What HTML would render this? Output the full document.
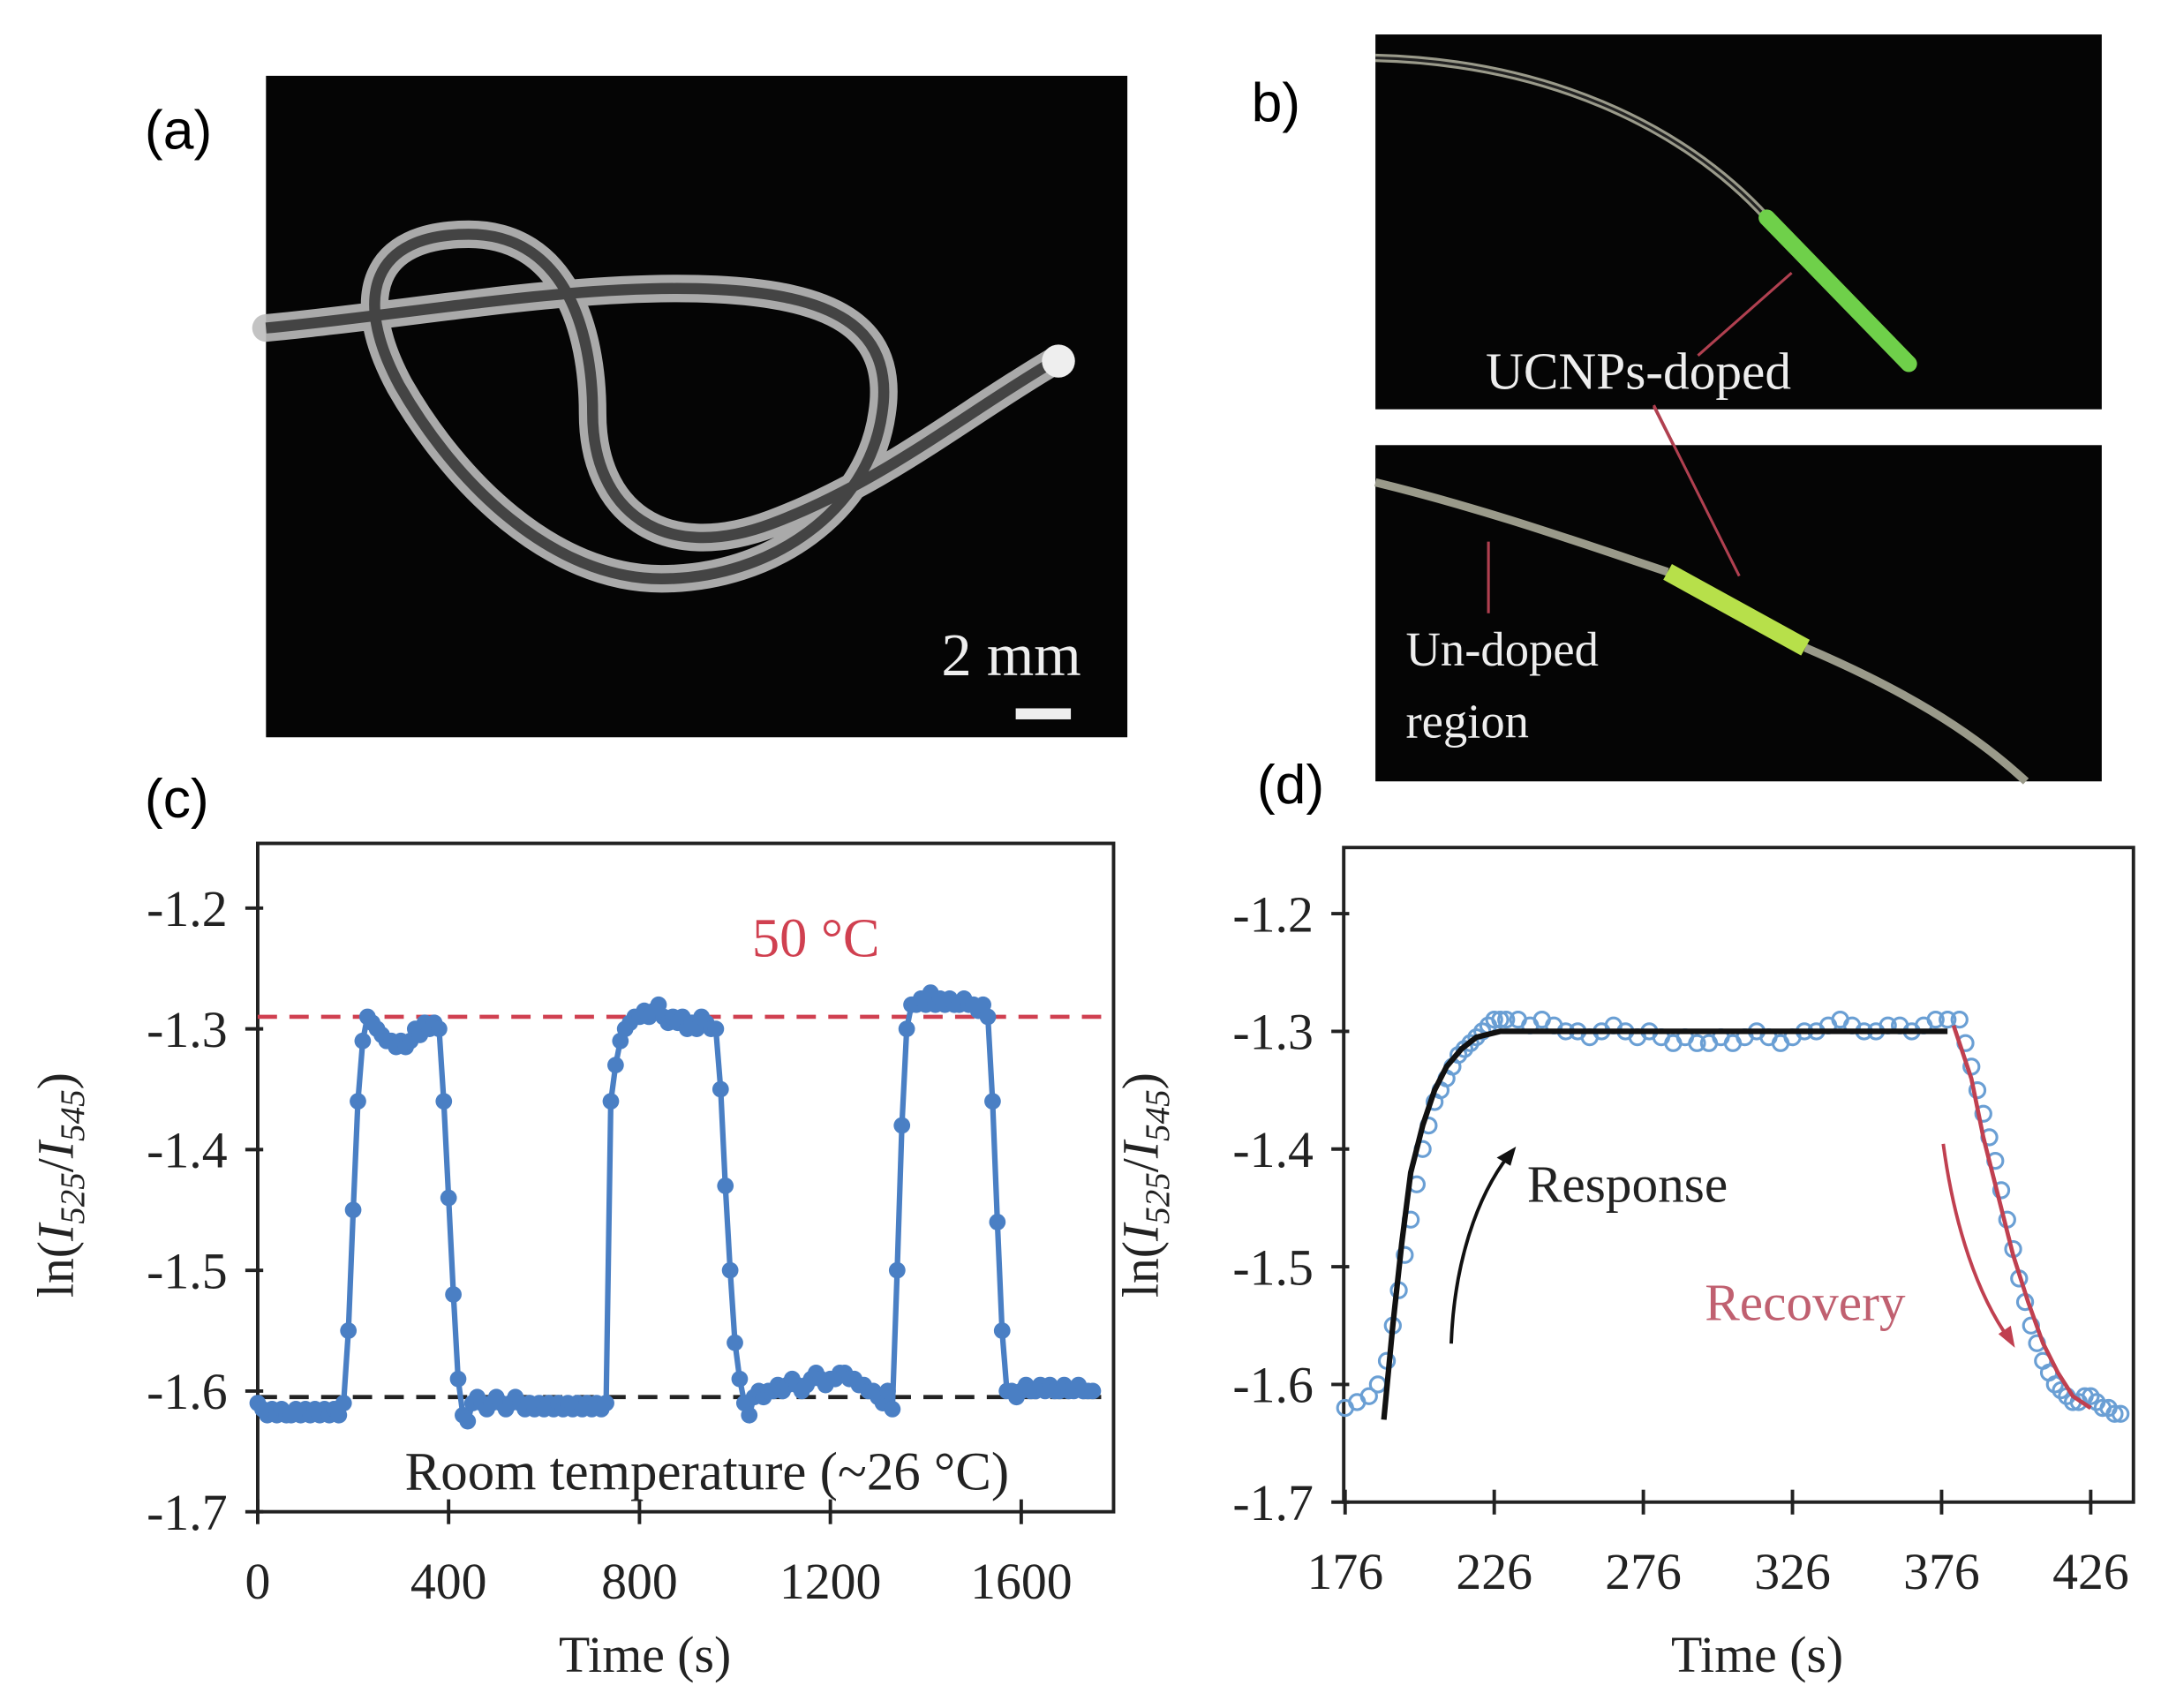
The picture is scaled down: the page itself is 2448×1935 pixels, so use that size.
<!DOCTYPE html>
<html><head><meta charset="utf-8"><style>
html,body{margin:0;padding:0;background:#fff;}
svg{display:block;}
text{font-family:"Liberation Serif",serif;}
.lbl{font-family:"Liberation Sans",sans-serif;}
</style></head><body>
<svg id="fig" width="2448" height="1935" viewBox="0 0 1568 1239.4" xmlns="http://www.w3.org/2000/svg">
<rect width="1568" height="1240" fill="#fff"/>
<!-- panel a -->
<text class="lbl" x="105" y="108" font-size="40">(a)</text>
<g>
<rect x="193" y="55" width="625" height="480" fill="#050505"/>
<g fill="none" stroke="#bdbdbd" stroke-width="20" stroke-linecap="round" opacity="0.9">
<path d="M193,238 C300,228 420,205 520,210 C600,214 650,235 640,300 C630,370 560,420 480,420 C400,420 330,350 290,280 C255,215 270,170 340,170 C410,170 430,240 430,300 C430,370 480,410 560,380 C640,350 700,300 765,262"/>
</g>
<g fill="none" stroke="#2a2a2a" stroke-width="8" opacity="0.8">
<path d="M193,238 C300,228 420,205 520,210 C600,214 650,235 640,300 C630,370 560,420 480,420 C400,420 330,350 290,280 C255,215 270,170 340,170 C410,170 430,240 430,300 C430,370 480,410 560,380 C640,350 700,300 765,262"/>
</g>
<circle cx="768" cy="262" r="12" fill="#eee"/>
<text x="683" y="490" font-size="44" fill="#eee">2 mm</text>
<rect x="737" y="514" width="40" height="8" fill="#eee"/>
</g>
<!-- panel b -->
<text class="lbl" x="908" y="88" font-size="40">b)</text>
<g>
<rect x="998" y="25" width="527" height="272" fill="#050505"/>
<path d="M998,42 C1120,45 1220,90 1282,158" fill="none" stroke="#9a9a8a" stroke-width="6"/>
<path d="M998,42 C1120,45 1220,90 1282,158" fill="none" stroke="#222" stroke-width="2"/>
<path d="M1282,158 L1385,264" fill="none" stroke="#6fd04a" stroke-width="12" stroke-linecap="round"/>
<path d="M1232,258 L1300,198" stroke="#b04050" stroke-width="2"/>
<text x="1078" y="282" font-size="38" fill="#eee">UCNPs-doped</text>
</g>
<path d="M1200,295 L1262,418" stroke="#b04050" stroke-width="2"/>
<g>
<rect x="998" y="323" width="527" height="244" fill="#050505"/>
<path d="M998,350 C1080,370 1150,395 1210,415 M1310,470 C1380,500 1430,530 1470,567" fill="none" stroke="#9a9a8a" stroke-width="6"/>
<path d="M1210,415 L1310,470" stroke="#b7e04a" stroke-width="13"/>
<path d="M1200,294 L1262,418" stroke="#b04050" stroke-width="2"/>
<path d="M1080,393 L1080,445" stroke="#b04050" stroke-width="2"/>
<text x="1020" y="483" font-size="35" fill="#eee">Un-doped</text>
<text x="1020" y="535" font-size="35" fill="#eee">region</text>
</g>
<text class="lbl" x="105" y="593" font-size="40">(c)</text>
<text class="lbl" x="912" y="583" font-size="40">(d)</text>
<g id="chartC"></g>
<g id="chartD"></g>
</svg>
<script>
// ---- Chart C data ----
const cTimeStep = 10;
const cValues = [
-1.61,-1.615,-1.62,-1.615,-1.62,-1.615,-1.62,-1.62,-1.615,-1.62,-1.615,-1.62,-1.615,-1.62,-1.615,-1.62,-1.615,-1.62,
-1.61,-1.55,-1.45,-1.36,-1.31,-1.29,-1.295,-1.30,-1.305,-1.31,-1.31,-1.315,-1.31,-1.315,-1.31,-1.30,-1.305,-1.295,-1.30,-1.295,-1.30,
-1.36,-1.44,-1.52,-1.59,-1.62,-1.625,-1.61,-1.605,
-1.61,-1.615,-1.61,-1.605,-1.61,-1.615,-1.61,-1.605,-1.61,-1.615,-1.61,-1.615,-1.61,-1.615,-1.61,-1.615,-1.61,-1.615,-1.61,-1.615,-1.61,-1.615,-1.61,-1.615,-1.61,-1.615,
-1.61,-1.36,-1.33,-1.31,-1.30,-1.295,-1.29,
-1.29,-1.285,-1.29,-1.285,-1.28,-1.29,-1.295,-1.29,-1.295,-1.29,-1.30,-1.295,-1.30,-1.29,-1.295,-1.30,
-1.30,-1.35,-1.43,-1.50,-1.56,-1.59,-1.61,-1.62,
-1.605,-1.60,-1.605,-1.60,-1.60,-1.595,-1.60,-1.595,-1.59,-1.595,-1.60,-1.595,-1.59,-1.585,-1.59,-1.595,-1.59,-1.59,-1.585,-1.585,-1.59,-1.59,-1.595,-1.595,-1.60,-1.60,-1.605,-1.61,-1.60,
-1.615,-1.50,-1.38,-1.30,-1.28,
-1.28,-1.275,-1.28,-1.27,-1.28,-1.275,-1.28,-1.275,-1.28,-1.28,-1.275,-1.28,-1.28,-1.285,-1.28,
-1.29,-1.36,-1.46,-1.55,-1.60,
-1.60,-1.605,-1.60,-1.595,-1.60,-1.60,-1.595,-1.60,-1.595,-1.60,-1.60,-1.595,-1.60,-1.60,-1.595,-1.60,-1.60,-1.60
];
const cXTicks = [0,400,800,1200,1600];
const cYTicks = [-1.2,-1.3,-1.4,-1.5,-1.6,-1.7];
const cRefHot = -1.29;
const cRefRoom = -1.605;
// ---- Chart D data ----
const dTimes = [176,180,184,187,190,192,194,196,198,200,202,204,206,208,210,212,214,216,218,220,222,224,226,228,230,234,238,242,246,250,254,258,262,266,270,274,278,282,286,290,294,298,302,306,310,314,318,322,326,330,334,338,342,346,350,354,358,362,366,370,374,378,382,384,386,388,390,392,394,396,398,400,402,404,406,408,410,412,414,416,418,420,422,424,426,428,430,432,434,436];
const dValues = [-1.62,-1.615,-1.61,-1.60,-1.58,-1.55,-1.52,-1.49,-1.46,-1.43,-1.40,-1.38,-1.36,-1.35,-1.34,-1.33,-1.32,-1.315,-1.31,-1.305,-1.30,-1.295,-1.29,-1.29,-1.29,-1.29,-1.295,-1.29,-1.295,-1.30,-1.30,-1.305,-1.30,-1.295,-1.30,-1.305,-1.30,-1.305,-1.31,-1.305,-1.31,-1.31,-1.305,-1.31,-1.305,-1.30,-1.305,-1.31,-1.305,-1.30,-1.30,-1.295,-1.29,-1.295,-1.30,-1.30,-1.295,-1.295,-1.30,-1.295,-1.29,-1.29,-1.29,-1.31,-1.33,-1.35,-1.37,-1.39,-1.41,-1.435,-1.46,-1.485,-1.51,-1.53,-1.55,-1.565,-1.58,-1.59,-1.60,-1.605,-1.61,-1.615,-1.615,-1.61,-1.61,-1.615,-1.62,-1.62,-1.625,-1.625];
const dFitRiseT = [189,192,195,198,202,206,210,215,220,228,250,300,378];
const dFitRiseY = [-1.63,-1.55,-1.48,-1.42,-1.38,-1.35,-1.33,-1.315,-1.305,-1.30,-1.30,-1.30,-1.30];
const dFitFallT = [380,386,390,395,400,405,410,415,420,426];
const dFitFallY = [-1.295,-1.34,-1.39,-1.44,-1.49,-1.53,-1.565,-1.59,-1.61,-1.62];
const dXTicks = [176,226,276,326,376,426];
const dYTicks = [-1.2,-1.3,-1.4,-1.5,-1.6,-1.7];

const NS='http://www.w3.org/2000/svg';
function mk(parent,tag,attrs,txt){const e=document.createElementNS(NS,tag);for(const k in attrs)e.setAttribute(k,attrs[k]);if(txt!==undefined)e.textContent=txt;parent.appendChild(e);return e;}
function lin(d0,d1,r0,r1){return v=>r0+(v-d0)/(d1-d0)*(r1-r0);}
function fmt(v){return (Math.round(v*10)/10).toFixed(1);}

function axes(g,box,X,Y,xt,yt){
  const fr=mk(g,'rect',{x:box.l,y:box.t,width:box.r-box.l,height:box.b-box.t,fill:'none',stroke:'#222','stroke-width':2.5});
  
  
  yt.forEach(v=>{const y=Y(v);
    const t=mk(g,'line',{x1:box.l-9,x2:box.l+4,y1:y,y2:y,stroke:'#222','stroke-width':2.5});
    
    
    const l=mk(g,'text',{x:box.l-22,y:y+13,'font-size':37,'text-anchor':'end',fill:'#222'},fmt(v));
    
    });
  xt.forEach(v=>{const x=X(v);
    const t=mk(g,'line',{x1:x,x2:x,y1:box.b-9,y2:box.b+9,stroke:'#222','stroke-width':2.5});
    
    
    const l=mk(g,'text',{x:x,y:box.b+63,'font-size':37,'text-anchor':'middle',fill:'#222'},String(v));
    
    });
}
function ytitle(g,x,y){
  const t=mk(g,'text',{transform:`translate(${x},${y}) rotate(-90)`,'font-size':37,'text-anchor':'middle',fill:'#222'});
  
  
  t.innerHTML='ln(<tspan font-style="italic">I</tspan><tspan font-style="italic" font-size="25" dy="8">525</tspan><tspan dy="-8">/</tspan><tspan font-style="italic">I</tspan><tspan font-style="italic" font-size="25" dy="8">545</tspan><tspan dy="-8">)</tspan>';
}
function xtitle(g,x,y){
  const t=mk(g,'text',{x:x,y:y,'font-size':37,'text-anchor':'middle',fill:'#222'},'Time (s)');
  
  
}

// Chart C
(function(){
  const g=document.getElementById('chartC');
  const box={l:187,r:808,t:612,b:1097};
  const X=lin(0,1600,187,741), Y=lin(-1.2,-1.7,659,1097);
  axes(g,box,X,Y,cXTicks,cYTicks);
  const hot=mk(g,'line',{x1:box.l,x2:box.r,y1:Y(cRefHot),y2:Y(cRefHot),stroke:'#d04050','stroke-width':3,'stroke-dasharray':'14 9'});
  
  
  const room=mk(g,'line',{x1:box.l,x2:box.r,y1:Y(cRefRoom),y2:Y(cRefRoom),stroke:'#222','stroke-width':3,'stroke-dasharray':'14 9'});
  
  
  let d='';cValues.forEach((v,i)=>{d+=(i?'L':'M')+X(i*cTimeStep).toFixed(1)+','+Y(v).toFixed(1);});
  const ln=mk(g,'path',{d:d,fill:'none',stroke:'#4a7fc4','stroke-width':4});
  
  
  cValues.forEach((v,i)=>{const c=mk(g,'circle',{cx:X(i*cTimeStep),cy:Y(v),r:6,fill:'#4a7fc4'});
    
    });
  const a=mk(g,'text',{x:592,y:694,'font-size':40,'text-anchor':'middle',fill:'#d04050'},'50 °C');
  
  
  const b=mk(g,'text',{x:513,y:1081,'font-size':39,'text-anchor':'middle',fill:'#222'},'Room temperature (~26 °C)');
  
  
  ytitle(g,53,860); xtitle(g,468,1213);
})();

// Chart D
(function(){
  const g=document.getElementById('chartD');
  const box={l:975,r:1548,t:615,b:1090};
  const X=lin(176,426,976,1517), Y=lin(-1.2,-1.7,663,1090);
  axes(g,box,X,Y,dXTicks,dYTicks);
  dValues.forEach((v,i)=>{const c=mk(g,'circle',{cx:X(dTimes[i]),cy:Y(v),r:5.5,fill:'none',stroke:'#6a9fd4','stroke-width':2});
    
    });
  let d='';dFitRiseT.forEach((t,i)=>{d+=(i?'L':'M')+X(t).toFixed(1)+','+Y(dFitRiseY[i]).toFixed(1);});
  const f1=mk(g,'path',{d:d,fill:'none',stroke:'#111','stroke-width':4});
  
  
  d='';dFitFallT.forEach((t,i)=>{d+=(i?'L':'M')+X(t).toFixed(1)+','+Y(dFitFallY[i]).toFixed(1);});
  const f2=mk(g,'path',{d:d,fill:'none',stroke:'#c04050','stroke-width':3});
  
  
  const ar1=mk(g,'path',{d:'M1053,975 C1055,920 1070,870 1095,838',fill:'none',stroke:'#111','stroke-width':2.5});
  
  
  mk(g,'path',{d:'M1100,832 L1086,840 L1096,846 Z',fill:'#111'});
  const t1=mk(g,'text',{x:1108,y:872,'font-size':38,fill:'#222'},'Response');
  
  
  const ar2=mk(g,'path',{d:'M1410,830 C1418,890 1435,940 1458,972',fill:'none',stroke:'#c04050','stroke-width':2.5});
  
  
  mk(g,'path',{d:'M1462,978 L1450,968 L1459,962 Z',fill:'#c04050'});
  const t2=mk(g,'text',{x:1237,y:958,'font-size':38,fill:'#c06070'},'Recovery');
  
  
  ytitle(g,840,860); xtitle(g,1275,1213);
})();
</script>
</body></html>
